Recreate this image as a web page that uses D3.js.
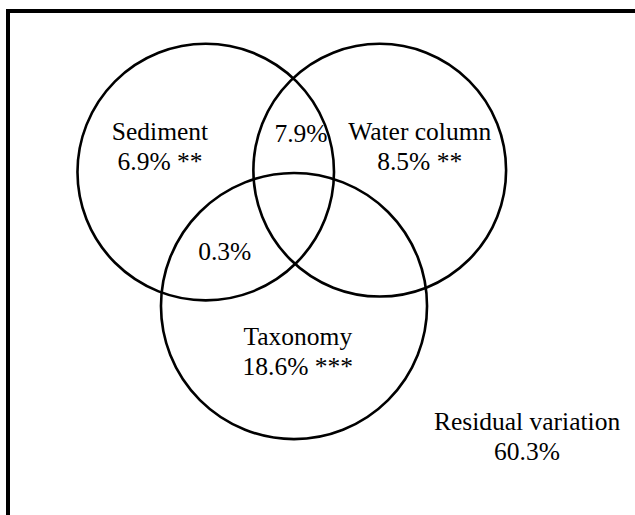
<!DOCTYPE html>
<html>
<head>
<meta charset="utf-8">
<script src="https://cdn.jsdelivr.net/npm/d3@7"></script>
<style>
  html, body { margin: 0; padding: 0; background: #fff; }
  svg { display: block; }
</style>
</head>
<body>
<script>
// Variation partitioning: fractions explained by each set of predictors
const setNames = ["Sediment", "Water column", "Taxonomy"];
const uniqueFractions = [6.9, 8.5, 18.6];
const significance = ["**", "**", "***"];
const sharedPairs = [["Sediment", "Water column"], ["Sediment", "Taxonomy"]];
const sharedFractions = [7.9, 0.3];
const residualLabel = "Residual variation";
const residualFraction = 60.3;

const W = 635, H = 515;
const svg = d3.select("body").append("svg").attr("width", W).attr("height", H);

// diagram units -> pixels (same scale on both axes)
const x = d3.scaleLinear().domain([0, 100]).range([0, 635]);
const y = d3.scaleLinear().domain([0, 100]).range([0, 635]);

// circle layout in diagram units
const circleLayout = [
  { cx: 32.4, cy: 27.1, r: 20.2 },
  { cx: 59.8, cy: 26.8, r: 19.9 },
  { cx: 46.3, cy: 48.2, r: 20.95 }
];
// label anchors (centre x, first baseline y) in diagram units
const setLabelPos = [[25.2, 22.05], [66.1, 22.05], [46.9, 54.3]];
const pairLabelPos = [[47.4, 22.3], [35.4, 40.9]];
const residualPos = [83.0, 67.7];

const font = "'Liberation Serif', 'Times New Roman', serif";
const fs = 25.5, lh = 30;
const fmt = v => d3.format(".1f")(v) + "%";

// frame
svg.append("path")
  .attr("d", `M8,${H} L8,11 L${W},11`)
  .attr("fill", "none").attr("stroke", "#000").attr("stroke-width", 4);

svg.selectAll("circle.set")
  .data(circleLayout)
  .join("circle")
  .attr("class", "set")
  .attr("cx", d => x(d.cx))
  .attr("cy", d => y(d.cy))
  .attr("r", d => x(d.r))
  .attr("fill", "none")
  .attr("stroke", "#000")
  .attr("stroke-width", 2.6);

const txt = svg.append("g")
  .attr("font-family", font)
  .attr("font-size", fs)
  .attr("fill", "#000")
  .attr("text-anchor", "middle");

setNames.forEach((name, i) => {
  const [px, py] = setLabelPos[i];
  const t = txt.append("text").attr("x", x(px)).attr("y", y(py));
  t.append("tspan").attr("x", x(px)).text(name);
  t.append("tspan").attr("x", x(px)).attr("dy", lh)
    .text(fmt(uniqueFractions[i]) + " " + significance[i]);
});

sharedFractions.forEach((v, i) => {
  const [px, py] = pairLabelPos[i];
  txt.append("text").attr("x", x(px)).attr("y", y(py)).text(fmt(v));
});

const r = txt.append("text").attr("x", x(residualPos[0])).attr("y", y(residualPos[1]));
r.append("tspan").attr("x", x(residualPos[0])).text(residualLabel);
r.append("tspan").attr("x", x(residualPos[0])).attr("dy", lh).text(fmt(residualFraction));
</script>
</body>
</html>
